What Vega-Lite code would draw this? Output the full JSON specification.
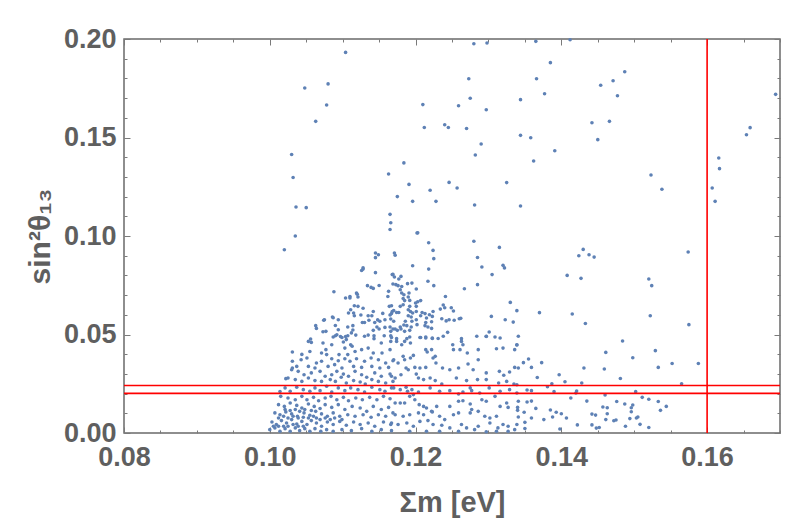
{
"$schema": "https://vega.github.io/schema/vega-lite/v6.json",
"width": 656, "height": 394,
"autosize": {"type": "none"},
"padding": {"left": 124, "top": 39, "right": 12, "bottom": 92},
"background": "white",
"config": {"view": {"stroke": "#6a6a6a", "strokeWidth": 1.5},
 "axis": {"grid": false, "domain": false, "tickColor": "#7a7a7a", "tickWidth": 1, "labelFont": "Liberation Sans", "labelFontSize": 27, "labelFontWeight": "bold", "labelColor": "#5f5f5f", "titleFont": "Liberation Sans", "titleFontSize": 29, "titleFontWeight": "bold", "titleColor": "#5f5f5f", "labelOverlap": false, "labelFlush": false}},
"datasets": {
"h": [{"s": 0.0201}, {"s": 0.0241}],
"v": [{"m": 0.16}],
"pts": [
{"m":0.1104,"s":0.1932},{"m":0.1048,"s":0.1751},{"m":0.1080,"s":0.1772},{"m":0.1078,"s":0.1665},{"m":0.1063,"s":0.1582},{"m":0.1030,"s":0.1414},{"m":0.1032,"s":0.1297},{"m":0.1036,"s":0.1147},{"m":0.1050,"s":0.1144},{"m":0.1035,"s":0.1000},{"m":0.1020,"s":0.0930},{"m":0.1163,"s":0.1315},{"m":0.1175,"s":0.1200},{"m":0.1165,"s":0.1110},{"m":0.1166,"s":0.1067},{"m":0.1165,"s":0.1033},{"m":0.1145,"s":0.0914},{"m":0.1149,"s":0.0905},{"m":0.1145,"s":0.0890},{"m":0.1171,"s":0.0914},{"m":0.1128,"s":0.0838},
{"m":0.1280,"s":0.1976},{"m":0.1298,"s":0.1980},{"m":0.1365,"s":0.1988},{"m":0.1412,"s":0.1996},{"m":0.1385,"s":0.1880},{"m":0.1273,"s":0.1798},{"m":0.1366,"s":0.1798},{"m":0.1487,"s":0.1834},{"m":0.1471,"s":0.1788},{"m":0.1454,"s":0.1765},{"m":0.1477,"s":0.1712},{"m":0.1377,"s":0.1722},{"m":0.1275,"s":0.1699},{"m":0.1210,"s":0.1667},{"m":0.1259,"s":0.1661},{"m":0.1297,"s":0.1641},{"m":0.1344,"s":0.1692},{"m":0.1694,"s":0.1719},{"m":0.1212,"s":0.1551},{"m":0.1240,"s":0.1565},{"m":0.1245,"s":0.1551},{"m":0.1270,"s":0.1546},{"m":0.1344,"s":0.1511},{"m":0.1358,"s":0.1499},{"m":0.1442,"s":0.1575},{"m":0.1466,"s":0.1582},{"m":0.1450,"s":0.1489},{"m":0.1654,"s":0.1514},{"m":0.1659,"s":0.1550},{"m":0.1290,"s":0.1467},{"m":0.1282,"s":0.1411},{"m":0.1391,"s":0.1433},{"m":0.1362,"s":0.1381},{"m":0.1184,"s":0.1371},{"m":0.1616,"s":0.1396},{"m":0.1617,"s":0.1342},{"m":0.1607,"s":0.1244},{"m":0.1611,"s":0.1176},{"m":0.1523,"s":0.1310},{"m":0.1538,"s":0.1237},{"m":0.1574,"s":0.0919},{"m":0.1191,"s":0.1262},{"m":0.1246,"s":0.1272},{"m":0.1257,"s":0.1244},{"m":0.1220,"s":0.1232},{"m":0.1325,"s":0.1271},{"m":0.1196,"s":0.1176},{"m":0.1228,"s":0.1176},{"m":0.1281,"s":0.1157},{"m":0.1344,"s":0.1152},{"m":0.1202,"s":0.1015},{"m":0.1203,"s":0.1016},{"m":0.1218,"s":0.0966},{"m":0.1280,"s":0.0973},{"m":0.1224,"s":0.0927},{"m":0.1225,"s":0.0885},{"m":0.1315,"s":0.0942},{"m":0.1285,"s":0.0891},{"m":0.1172,"s":0.0902},{"m":0.1430,"s":0.0932},{"m":0.1424,"s":0.0900},{"m":0.1438,"s":0.0905},{"m":0.1445,"s":0.0893},{"m":0.1196,"s":0.0849},{"m":0.1218,"s":0.0832},{"m":0.1291,"s":0.0843},{"m":0.1320,"s":0.0851},{"m":0.1322,"s":0.0838},
{"m":0.1408,"s":0.0800},{"m":0.1427,"s":0.0785},{"m":0.1520,"s":0.0782},{"m":0.1339,"s":0.0621},{"m":0.1370,"s":0.0611},{"m":0.1415,"s":0.0604},{"m":0.1522,"s":0.0595},{"m":0.1433,"s":0.0556},{"m":0.1339,"s":0.0447},{"m":0.1484,"s":0.0467},{"m":0.1461,"s":0.0409},{"m":0.1498,"s":0.0382},{"m":0.1355,"s":0.0376},{"m":0.1348,"s":0.0357},{"m":0.1373,"s":0.0357},{"m":0.1336,"s":0.0333},{"m":0.1359,"s":0.0333},{"m":0.1431,"s":0.0330},{"m":0.1459,"s":0.0325},{"m":0.1397,"s":0.0296},{"m":0.1367,"s":0.0282},{"m":0.1481,"s":0.0277},{"m":0.1405,"s":0.0260},{"m":0.1339,"s":0.0245},{"m":0.1387,"s":0.0250},{"m":0.1428,"s":0.0254},{"m":0.1381,"s":0.0235},{"m":0.1353,"s":0.0218},{"m":0.1359,"s":0.0215},{"m":0.1421,"s":0.0213},{"m":0.1420,"s":0.0203},{"m":0.1390,"s":0.0210},{"m":0.1502,"s":0.0210},{"m":0.1460,"s":0.0193},{"m":0.1413,"s":0.0178},{"m":0.1511,"s":0.0181},{"m":0.1520,"s":0.0171},{"m":0.1435,"s":0.0162},{"m":0.1353,"s":0.0157},{"m":0.1359,"s":0.0162},{"m":0.1476,"s":0.0160},{"m":0.1487,"s":0.0147},{"m":0.1498,"s":0.0142},{"m":0.1496,"s":0.0128},{"m":0.1340,"s":0.0130},{"m":0.1340,"s":0.0115},{"m":0.1365,"s":0.0125},{"m":0.1457,"s":0.0132},{"m":0.1463,"s":0.0128},{"m":0.1385,"s":0.0117},{"m":0.1393,"s":0.0105},{"m":0.1400,"s":0.0098},{"m":0.1349,"s":0.0105},{"m":0.1496,"s":0.0108},{"m":0.1442,"s":0.0096},{"m":0.1447,"s":0.0091},{"m":0.1463,"s":0.0098},{"m":0.1341,"s":0.0081},{"m":0.1359,"s":0.0076},{"m":0.1376,"s":0.0068},{"m":0.1407,"s":0.0076},{"m":0.1388,"s":0.0081},{"m":0.1461,"s":0.0068},{"m":0.1472,"s":0.0062},{"m":0.1475,"s":0.0066},{"m":0.1494,"s":0.0073},{"m":0.1503,"s":0.0076},{"m":0.1505,"s":0.0081},{"m":0.1350,"s":0.0054},{"m":0.1508,"s":0.0044},{"m":0.1422,"s":0.0041},{"m":0.1442,"s":0.0041},{"m":0.1452,"s":0.0028},{"m":0.1448,"s":0.0025},{"m":0.1488,"s":0.0034},{"m":0.1520,"s":0.0028},{"m":0.1350,"s":0.0023},{"m":0.1398,"s":0.0020},
{"m":0.1524,"s":0.0748},{"m":0.1575,"s":0.0550},{"m":0.1529,"s":0.0418},{"m":0.1533,"s":0.0333},{"m":0.1552,"s":0.0353},{"m":0.1588,"s":0.0353},{"m":0.1565,"s":0.0250},{"m":0.1533,"s":0.0160},{"m":0.1544,"s":0.0135},{"m":0.1536,"s":0.0115},
{"m":0.1128,"s":0.0832},{"m":0.1126,"s":0.0825},{"m":0.1145,"s":0.0814},{"m":0.1169,"s":0.0805},{"m":0.1171,"s":0.0792},{"m":0.1134,"s":0.0748},{"m":0.1139,"s":0.0739},{"m":0.1142,"s":0.0734},{"m":0.1150,"s":0.0749},{"m":0.1169,"s":0.0756},{"m":0.1088,"s":0.0717},{"m":0.1163,"s":0.0719},{"m":0.1162,"s":0.0693},{"m":0.1119,"s":0.0711},{"m":0.1121,"s":0.0690},{"m":0.1104,"s":0.0685},{"m":0.1110,"s":0.0685},{"m":0.1116,"s":0.0646},{"m":0.1121,"s":0.0643},{"m":0.1128,"s":0.0633},{"m":0.1111,"s":0.0626},{"m":0.1115,"s":0.0609},{"m":0.1108,"s":0.0609},{"m":0.1142,"s":0.0617},{"m":0.1164,"s":0.0643},{"m":0.1168,"s":0.0617},{"m":0.1135,"s":0.0595},{"m":0.1140,"s":0.0595},{"m":0.1125,"s":0.0599},{"m":0.1155,"s":0.0607},{"m":0.1165,"s":0.0599},{"m":0.1166,"s":0.0579},{"m":0.1170,"s":0.0567},{"m":0.1087,"s":0.0585},{"m":0.1094,"s":0.0575},{"m":0.1075,"s":0.0575},{"m":0.1116,"s":0.0595},{"m":0.1136,"s":0.0572},{"m":0.1130,"s":0.0561},{"m":0.1148,"s":0.0574},{"m":0.1151,"s":0.0567},{"m":0.1144,"s":0.0561},{"m":0.1158,"s":0.0575},{"m":0.1127,"s":0.0561},{"m":0.1090,"s":0.0546},{"m":0.1063,"s":0.0545},{"m":0.1064,"s":0.0531},{"m":0.1107,"s":0.0538},{"m":0.1114,"s":0.0545},{"m":0.1147,"s":0.0538},{"m":0.1158,"s":0.0536},{"m":0.1169,"s":0.0528},{"m":0.1166,"s":0.0516},{"m":0.1073,"s":0.0514},{"m":0.1077,"s":0.0516},{"m":0.1094,"s":0.0524},{"m":0.1114,"s":0.0523},{"m":0.1112,"s":0.0508},{"m":0.1142,"s":0.0521},{"m":0.1150,"s":0.0528},{"m":0.1092,"s":0.0499},{"m":0.1097,"s":0.0490},{"m":0.1104,"s":0.0490},{"m":0.1107,"s":0.0494},{"m":0.1087,"s":0.0487},{"m":0.1118,"s":0.0497},{"m":0.1135,"s":0.0497},{"m":0.1143,"s":0.0494},{"m":0.1157,"s":0.0494},{"m":0.1166,"s":0.0494},{"m":0.1056,"s":0.0477},
{"m":0.1305,"s":0.0804},{"m":0.1168,"s":0.0804},{"m":0.1177,"s":0.0782},{"m":0.1180,"s":0.0795},{"m":0.1217,"s":0.0770},{"m":0.1285,"s":0.0753},{"m":0.1225,"s":0.0748},{"m":0.1173,"s":0.0753},{"m":0.1176,"s":0.0748},{"m":0.1181,"s":0.0744},{"m":0.1189,"s":0.0758},{"m":0.1195,"s":0.0761},{"m":0.1267,"s":0.0732},{"m":0.1201,"s":0.0731},{"m":0.1179,"s":0.0727},{"m":0.1181,"s":0.0711},{"m":0.1184,"s":0.0702},{"m":0.1191,"s":0.0711},{"m":0.1190,"s":0.0690},{"m":0.1183,"s":0.0683},{"m":0.1185,"s":0.0672},{"m":0.1183,"s":0.0651},{"m":0.1241,"s":0.0693},{"m":0.1203,"s":0.0666},{"m":0.1207,"s":0.0672},{"m":0.1200,"s":0.0660},{"m":0.1192,"s":0.0673},{"m":0.1192,"s":0.0643},{"m":0.1190,"s":0.0626},{"m":0.1330,"s":0.0663},{"m":0.1238,"s":0.0650},{"m":0.1240,"s":0.0636},{"m":0.1234,"s":0.0629},{"m":0.1249,"s":0.0636},{"m":0.1252,"s":0.0619},{"m":0.1201,"s":0.0643},{"m":0.1201,"s":0.0617},{"m":0.1167,"s":0.0646},{"m":0.1170,"s":0.0622},{"m":0.1174,"s":0.0612},{"m":0.1167,"s":0.0606},{"m":0.1179,"s":0.0643},{"m":0.1177,"s":0.0612},{"m":0.1193,"s":0.0617},{"m":0.1196,"s":0.0609},{"m":0.1190,"s":0.0595},{"m":0.1194,"s":0.0589},{"m":0.1195,"s":0.0567},{"m":0.1209,"s":0.0612},{"m":0.1213,"s":0.0606},{"m":0.1207,"s":0.0595},{"m":0.1224,"s":0.0617},{"m":0.1219,"s":0.0600},{"m":0.1223,"s":0.0592},{"m":0.1215,"s":0.0584},{"m":0.1186,"s":0.0567},{"m":0.1184,"s":0.0548},{"m":0.1188,"s":0.0545},{"m":0.1201,"s":0.0575},{"m":0.1202,"s":0.0550},{"m":0.1236,"s":0.0580},{"m":0.1242,"s":0.0569},{"m":0.1246,"s":0.0575},{"m":0.1253,"s":0.0572},{"m":0.1260,"s":0.0580},{"m":0.1262,"s":0.0582},{"m":0.1165,"s":0.0538},{"m":0.1172,"s":0.0528},{"m":0.1179,"s":0.0538},{"m":0.1175,"s":0.0521},{"m":0.1194,"s":0.0538},{"m":0.1192,"s":0.0521},{"m":0.1214,"s":0.0561},{"m":0.1213,"s":0.0545},{"m":0.1217,"s":0.0538},{"m":0.1222,"s":0.0531},{"m":0.1222,"s":0.0565},{"m":0.1244,"s":0.0511},{"m":0.1180,"s":0.0528},{"m":0.1185,"s":0.0516},{"m":0.1304,"s":0.0592},{"m":0.1323,"s":0.0575},{"m":0.1334,"s":0.0563},{"m":0.1301,"s":0.0513},{"m":0.1297,"s":0.0490},{"m":0.1309,"s":0.0487},{"m":0.1206,"s":0.0485},{"m":0.1214,"s":0.0487},{"m":0.1223,"s":0.0480},{"m":0.1231,"s":0.0480},{"m":0.1192,"s":0.0487},{"m":0.1188,"s":0.0479},{"m":0.1263,"s":0.0479},{"m":0.1167,"s":0.0485},{"m":0.1174,"s":0.0479},
{"m":0.1031,"s":0.0411},{"m":0.1022,"s":0.0276},{"m":0.1014,"s":0.0211},{"m":0.1110,"s":0.0693},{"m":0.1120,"s":0.0704},{"m":0.1074,"s":0.0572},{"m":0.1086,"s":0.0589},{"m":0.1057,"s":0.0460},{"m":0.1044,"s":0.0399},{"m":0.1031,"s":0.0330},
{"m":0.1090,"s":0.0494},{"m":0.1099,"s":0.0485},{"m":0.1105,"s":0.0474},{"m":0.1101,"s":0.0462},{"m":0.1085,"s":0.0448},{"m":0.1111,"s":0.0448},{"m":0.1130,"s":0.0491},{"m":0.1143,"s":0.0479},{"m":0.1153,"s":0.0457},{"m":0.1166,"s":0.0465},{"m":0.1053,"s":0.0465},{"m":0.1073,"s":0.0457},{"m":0.1077,"s":0.0423},{"m":0.1071,"s":0.0406},{"m":0.1078,"s":0.0398},{"m":0.1055,"s":0.0414},{"m":0.1103,"s":0.0431},{"m":0.1113,"s":0.0440},{"m":0.1117,"s":0.0414},{"m":0.1126,"s":0.0423},{"m":0.1135,"s":0.0431},{"m":0.1142,"s":0.0406},{"m":0.1154,"s":0.0406},{"m":0.1165,"s":0.0423},{"m":0.1095,"s":0.0398},{"m":0.1107,"s":0.0398},{"m":0.1051,"s":0.0381},{"m":0.1043,"s":0.0372},{"m":0.1064,"s":0.0355},{"m":0.1071,"s":0.0364},{"m":0.1085,"s":0.0377},{"m":0.1094,"s":0.0367},{"m":0.1103,"s":0.0377},{"m":0.1110,"s":0.0364},{"m":0.1119,"s":0.0377},{"m":0.1130,"s":0.0364},{"m":0.1139,"s":0.0381},{"m":0.1149,"s":0.0372},{"m":0.1159,"s":0.0355},{"m":0.1169,"s":0.0367},{"m":0.1031,"s":0.0364},{"m":0.1037,"s":0.0338},{"m":0.1053,"s":0.0338},{"m":0.1062,"s":0.0330},{"m":0.1080,"s":0.0338},{"m":0.1089,"s":0.0347},{"m":0.1099,"s":0.0330},{"m":0.1115,"s":0.0338},{"m":0.1126,"s":0.0333},{"m":0.1140,"s":0.0338},{"m":0.1151,"s":0.0330},{"m":0.1163,"s":0.0333},{"m":0.1030,"s":0.0321},{"m":0.1039,"s":0.0313},{"m":0.1047,"s":0.0296},{"m":0.1057,"s":0.0305},{"m":0.1069,"s":0.0313},{"m":0.1076,"s":0.0288},{"m":0.1085,"s":0.0296},{"m":0.1092,"s":0.0313},{"m":0.1101,"s":0.0299},{"m":0.1108,"s":0.0288},{"m":0.1117,"s":0.0313},{"m":0.1126,"s":0.0296},{"m":0.1133,"s":0.0283},{"m":0.1144,"s":0.0305},{"m":0.1153,"s":0.0288},{"m":0.1165,"s":0.0299},{"m":0.1025,"s":0.0279},{"m":0.1035,"s":0.0271},{"m":0.1044,"s":0.0262},{"m":0.1053,"s":0.0279},{"m":0.1062,"s":0.0266},{"m":0.1071,"s":0.0262},{"m":0.1083,"s":0.0271},{"m":0.1090,"s":0.0262},{"m":0.1098,"s":0.0283},{"m":0.1105,"s":0.0254},{"m":0.1115,"s":0.0266},{"m":0.1124,"s":0.0259},{"m":0.1131,"s":0.0249},{"m":0.1140,"s":0.0271},{"m":0.1149,"s":0.0262},{"m":0.1159,"s":0.0254},{"m":0.1169,"s":0.0262},{"m":0.1021,"s":0.0229},{"m":0.1028,"s":0.0212},{"m":0.1037,"s":0.0232},{"m":0.1046,"s":0.0220},{"m":0.1055,"s":0.0212},{"m":0.1062,"s":0.0229},{"m":0.1069,"s":0.0215},{"m":0.1078,"s":0.0237},{"m":0.1085,"s":0.0208},{"m":0.1094,"s":0.0229},{"m":0.1103,"s":0.0215},{"m":0.1111,"s":0.0229},{"m":0.1121,"s":0.0220},{"m":0.1130,"s":0.0208},{"m":0.1140,"s":0.0232},{"m":0.1151,"s":0.0220},{"m":0.1158,"s":0.0212},{"m":0.1167,"s":0.0229},{"m":0.1015,"s":0.0186},{"m":0.1025,"s":0.0178},{"m":0.1035,"s":0.0169},{"m":0.1044,"s":0.0186},{"m":0.1051,"s":0.0169},{"m":0.1060,"s":0.0181},{"m":0.1067,"s":0.0164},{"m":0.1076,"s":0.0178},{"m":0.1084,"s":0.0186},{"m":0.1092,"s":0.0169},{"m":0.1101,"s":0.0181},{"m":0.1108,"s":0.0164},{"m":0.1118,"s":0.0178},{"m":0.1127,"s":0.0169},{"m":0.1137,"s":0.0181},{"m":0.1147,"s":0.0169},{"m":0.1156,"s":0.0186},{"m":0.1165,"s":0.0174},{"m":0.1012,"s":0.0144},{"m":0.1020,"s":0.0135},{"m":0.1028,"s":0.0152},{"m":0.1037,"s":0.0140},{"m":0.1044,"s":0.0127},{"m":0.1053,"s":0.0147},{"m":0.1061,"s":0.0135},{"m":0.1069,"s":0.0124},{"m":0.1076,"s":0.0144},{"m":0.1085,"s":0.0130},{"m":0.1094,"s":0.0144},{"m":0.1103,"s":0.0119},{"m":0.1113,"s":0.0135},{"m":0.1124,"s":0.0127},{"m":0.1133,"s":0.0110},{"m":0.1142,"s":0.0135},{"m":0.1153,"s":0.0119},{"m":0.1163,"s":0.0130},{"m":0.1007,"s":0.0102},{"m":0.1014,"s":0.0093},{"m":0.1022,"s":0.0107},{"m":0.1030,"s":0.0097},{"m":0.1038,"s":0.0085},{"m":0.1047,"s":0.0102},{"m":0.1055,"s":0.0090},{"m":0.1063,"s":0.0110},{"m":0.1071,"s":0.0097},{"m":0.1079,"s":0.0085},{"m":0.1087,"s":0.0102},{"m":0.1096,"s":0.0085},{"m":0.1107,"s":0.0093},{"m":0.1117,"s":0.0085},{"m":0.1128,"s":0.0093},{"m":0.1139,"s":0.0080},{"m":0.1149,"s":0.0093},{"m":0.1159,"s":0.0085},{"m":0.1169,"s":0.0102},{"m":0.1003,"s":0.0056},{"m":0.1009,"s":0.0043},{"m":0.1016,"s":0.0063},{"m":0.1023,"s":0.0051},{"m":0.1030,"s":0.0068},{"m":0.1037,"s":0.0046},{"m":0.1044,"s":0.0059},{"m":0.1051,"s":0.0043},{"m":0.1057,"s":0.0063},{"m":0.1064,"s":0.0051},{"m":0.1071,"s":0.0034},{"m":0.1079,"s":0.0056},{"m":0.1087,"s":0.0043},{"m":0.1096,"s":0.0059},{"m":0.1105,"s":0.0039},{"m":0.1115,"s":0.0056},{"m":0.1124,"s":0.0043},{"m":0.1135,"s":0.0051},{"m":0.1144,"s":0.0034},{"m":0.1156,"s":0.0056},{"m":0.1166,"s":0.0043},{"m":0.1000,"s":0.0017},{"m":0.1007,"s":0.0026},{"m":0.1014,"s":0.0009},{"m":0.1021,"s":0.0022},{"m":0.1028,"s":0.0009},{"m":0.1035,"s":0.0026},{"m":0.1041,"s":0.0012},{"m":0.1048,"s":0.0022},{"m":0.1055,"s":0.0009},{"m":0.1062,"s":0.0022},{"m":0.1070,"s":0.0009},{"m":0.1078,"s":0.0017},{"m":0.1087,"s":0.0009},{"m":0.1099,"s":0.0017},{"m":0.1112,"s":0.0012},{"m":0.1126,"s":0.0022},{"m":0.1140,"s":0.0009},{"m":0.1153,"s":0.0017},{"m":0.1167,"s":0.0012},{"m":0.1005,"s":0.0034},{"m":0.1012,"s":0.0034},{"m":0.1019,"s":0.0034},{"m":0.1025,"s":0.0034},{"m":0.1032,"s":0.0043},{"m":0.1039,"s":0.0034},{"m":0.1046,"s":0.0034},{"m":0.1012,"s":0.0076},{"m":0.1019,"s":0.0085},{"m":0.1025,"s":0.0076},{"m":0.1032,"s":0.0085},{"m":0.1039,"s":0.0076},{"m":0.1046,"s":0.0080},{"m":0.1053,"s":0.0076},{"m":0.1060,"s":0.0085},{"m":0.1021,"s":0.0119},{"m":0.1028,"s":0.0114},{"m":0.1035,"s":0.0119},{"m":0.1041,"s":0.0110},{"m":0.1048,"s":0.0119},{"m":0.1057,"s":0.0114},{"m":0.1064,"s":0.0076},{"m":0.1069,"s":0.0068},{"m":0.1076,"s":0.0076},{"m":0.1083,"s":0.0068},{"m":0.1089,"s":0.0076},{"m":0.1099,"s":0.0068},
{"m":0.1174,"s":0.0465},{"m":0.1181,"s":0.0448},{"m":0.1185,"s":0.0465},{"m":0.1193,"s":0.0457},{"m":0.1207,"s":0.0485},{"m":0.1214,"s":0.0482},{"m":0.1223,"s":0.0482},{"m":0.1238,"s":0.0491},{"m":0.1263,"s":0.0465},{"m":0.1284,"s":0.0491},{"m":0.1297,"s":0.0491},{"m":0.1316,"s":0.0482},{"m":0.1341,"s":0.0491},{"m":0.1183,"s":0.0389},{"m":0.1185,"s":0.0372},{"m":0.1193,"s":0.0381},{"m":0.1197,"s":0.0394},{"m":0.1214,"s":0.0423},{"m":0.1216,"s":0.0411},{"m":0.1222,"s":0.0423},{"m":0.1227,"s":0.0389},{"m":0.1224,"s":0.0381},{"m":0.1251,"s":0.0448},{"m":0.1252,"s":0.0423},{"m":0.1261,"s":0.0423},{"m":0.1265,"s":0.0448},{"m":0.1271,"s":0.0406},{"m":0.1286,"s":0.0423},{"m":0.1286,"s":0.0372},{"m":0.1311,"s":0.0428},{"m":0.1320,"s":0.0431},{"m":0.1339,"s":0.0448},{"m":0.1336,"s":0.0423},{"m":0.1170,"s":0.0372},{"m":0.1176,"s":0.0355},{"m":0.1187,"s":0.0330},{"m":0.1190,"s":0.0321},{"m":0.1199,"s":0.0333},{"m":0.1206,"s":0.0330},{"m":0.1214,"s":0.0333},{"m":0.1228,"s":0.0355},{"m":0.1237,"s":0.0330},{"m":0.1247,"s":0.0321},{"m":0.1259,"s":0.0330},{"m":0.1272,"s":0.0350},{"m":0.1279,"s":0.0321},{"m":0.1297,"s":0.0305},{"m":0.1315,"s":0.0313},{"m":0.1321,"s":0.0293},{"m":0.1329,"s":0.0310},{"m":0.1341,"s":0.0330},{"m":0.1167,"s":0.0288},{"m":0.1172,"s":0.0279},{"m":0.1180,"s":0.0296},{"m":0.1201,"s":0.0299},{"m":0.1204,"s":0.0279},{"m":0.1211,"s":0.0271},{"m":0.1220,"s":0.0279},{"m":0.1227,"s":0.0266},{"m":0.1236,"s":0.0249},{"m":0.1256,"s":0.0279},{"m":0.1270,"s":0.0266},{"m":0.1285,"s":0.0271},{"m":0.1297,"s":0.0271},{"m":0.1314,"s":0.0254},{"m":0.1325,"s":0.0262},{"m":0.1335,"s":0.0249},{"m":0.1170,"s":0.0229},{"m":0.1179,"s":0.0220},{"m":0.1187,"s":0.0232},{"m":0.1189,"s":0.0212},{"m":0.1195,"s":0.0220},{"m":0.1197,"s":0.0195},{"m":0.1204,"s":0.0208},{"m":0.1220,"s":0.0229},{"m":0.1233,"s":0.0212},{"m":0.1247,"s":0.0215},{"m":0.1259,"s":0.0198},{"m":0.1265,"s":0.0208},{"m":0.1275,"s":0.0229},{"m":0.1277,"s":0.0215},{"m":0.1288,"s":0.0203},{"m":0.1301,"s":0.0229},{"m":0.1316,"s":0.0212},{"m":0.1329,"s":0.0220},{"m":0.1339,"s":0.0203},{"m":0.1172,"s":0.0152},{"m":0.1179,"s":0.0152},{"m":0.1185,"s":0.0152},{"m":0.1192,"s":0.0186},{"m":0.1199,"s":0.0169},{"m":0.1205,"s":0.0144},{"m":0.1211,"s":0.0135},{"m":0.1215,"s":0.0127},{"m":0.1222,"s":0.0110},{"m":0.1229,"s":0.0135},{"m":0.1247,"s":0.0135},{"m":0.1259,"s":0.0161},{"m":0.1265,"s":0.0164},{"m":0.1275,"s":0.0147},{"m":0.1277,"s":0.0119},{"m":0.1291,"s":0.0169},{"m":0.1297,"s":0.0161},{"m":0.1309,"s":0.0186},{"m":0.1316,"s":0.0135},{"m":0.1325,"s":0.0152},{"m":0.1327,"s":0.0130},{"m":0.1341,"s":0.0161},{"m":0.1172,"s":0.0093},{"m":0.1183,"s":0.0085},{"m":0.1192,"s":0.0093},{"m":0.1204,"s":0.0102},{"m":0.1211,"s":0.0093},{"m":0.1223,"s":0.0107},{"m":0.1233,"s":0.0085},{"m":0.1240,"s":0.0068},{"m":0.1252,"s":0.0093},{"m":0.1259,"s":0.0102},{"m":0.1275,"s":0.0102},{"m":0.1286,"s":0.0110},{"m":0.1295,"s":0.0085},{"m":0.1302,"s":0.0076},{"m":0.1311,"s":0.0085},{"m":0.1320,"s":0.0043},{"m":0.1327,"s":0.0034},{"m":0.1339,"s":0.0043},{"m":0.1167,"s":0.0051},{"m":0.1176,"s":0.0043},{"m":0.1188,"s":0.0051},{"m":0.1197,"s":0.0034},{"m":0.1206,"s":0.0059},{"m":0.1217,"s":0.0063},{"m":0.1224,"s":0.0043},{"m":0.1236,"s":0.0039},{"m":0.1247,"s":0.0026},{"m":0.1263,"s":0.0043},{"m":0.1270,"s":0.0026},{"m":0.1281,"s":0.0017},{"m":0.1286,"s":0.0034},{"m":0.1302,"s":0.0051},{"m":0.1313,"s":0.0026},{"m":0.1327,"s":0.0009},{"m":0.1336,"s":0.0017},{"m":0.1192,"s":0.0009},{"m":0.1215,"s":0.0009},{"m":0.1233,"s":0.0009},{"m":0.1259,"s":0.0009},{"m":0.1297,"s":0.0006},{"m":0.1311,"s":0.0009}
]},
"resolve": {"axis": {"x": "independent", "y": "independent"}},
"layer": [
{"data": {"name": "pts"},
 "mark": {"type": "circle", "size": 13, "color": "#5E81B5", "opacity": 1},
 "encoding": {
  "x": {"field": "m", "type": "quantitative", "scale": {"domain": [0.08, 0.17], "nice": false, "zero": false},
   "axis": {"orient": "bottom", "title": "Σm [eV]", "values": [0.08,0.085,0.09,0.095,0.1,0.105,0.11,0.115,0.12,0.125,0.13,0.135,0.14,0.145,0.15,0.155,0.16,0.165,0.17],
    "labelExpr": "abs(datum.value*50-round(datum.value*50))<0.001 ? format(datum.value,'.2f') : ''",
    "tickSize": {"condition": {"test": "abs(datum.value*50-round(datum.value*50))<0.001", "value": -6}, "value": -3},
    "labelPadding": 17, "titlePadding": 15}},
  "y": {"field": "s", "type": "quantitative", "scale": {"domain": [0, 0.2], "nice": false, "zero": false},
   "axis": {"orient": "left", "title": "sin²θ₁₃", "titleFontSize": 30, "values": [0,0.01,0.02,0.03,0.04,0.05,0.06,0.07,0.08,0.09,0.1,0.11,0.12,0.13,0.14,0.15,0.16,0.17,0.18,0.19,0.2],
    "labelExpr": "abs(datum.value*20-round(datum.value*20))<0.001 ? format(datum.value,'.2f') : ''",
    "tickSize": {"condition": {"test": "abs(datum.value*20-round(datum.value*20))<0.001", "value": -6}, "value": -3},
    "labelPadding": 14, "titlePadding": 8}}
 }},
{"data": {"name": "h"},
 "mark": {"type": "rule", "color": "#ff0000", "strokeWidth": 1.6},
 "encoding": {"y": {"field": "s", "type": "quantitative", "scale": {"domain": [0, 0.2], "nice": false, "zero": false},
   "axis": {"orient": "right", "title": null, "labels": false, "values": [0,0.01,0.02,0.03,0.04,0.05,0.06,0.07,0.08,0.09,0.1,0.11,0.12,0.13,0.14,0.15,0.16,0.17,0.18,0.19,0.2],
    "tickSize": {"condition": {"test": "abs(datum.value*20-round(datum.value*20))<0.001", "value": -6}, "value": -3}}}}},
{"data": {"name": "v"},
 "mark": {"type": "rule", "color": "#ff0000", "strokeWidth": 1.6},
 "encoding": {"x": {"field": "m", "type": "quantitative", "scale": {"domain": [0.08, 0.17], "nice": false, "zero": false},
   "axis": {"orient": "top", "title": null, "labels": false, "values": [0.08,0.085,0.09,0.095,0.1,0.105,0.11,0.115,0.12,0.125,0.13,0.135,0.14,0.145,0.15,0.155,0.16,0.165,0.17],
    "tickSize": {"condition": {"test": "abs(datum.value*50-round(datum.value*50))<0.001", "value": -6}, "value": -3}}}}}
]
}
